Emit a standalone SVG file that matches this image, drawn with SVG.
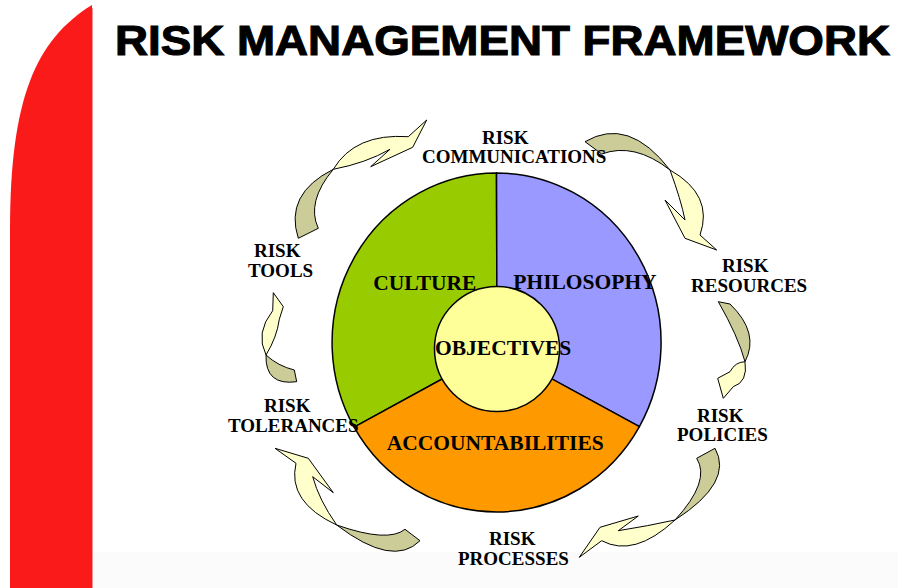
<svg xmlns="http://www.w3.org/2000/svg" width="898" height="588" viewBox="0 0 898 588">
  <defs>
    <style>
      .title { font-family: "Liberation Sans", Arial, sans-serif; font-weight: bold; font-size: 42px; fill: #000; stroke: #000; stroke-width: 1.1px; }
      .lbl { font-family: "Liberation Serif", "Times New Roman", serif; font-weight: bold; font-size: 19px; fill: #000; }
      .seg { font-family: "Liberation Serif", "Times New Roman", serif; font-weight: bold; font-size: 21.5px; fill: #000; }
      .wedge { stroke: #000; stroke-width: 1.5; stroke-linejoin: round; }
      .back { fill: #CCCC99; stroke: #000; stroke-width: 1; stroke-linejoin: round; }
      .front { fill: #FFFFCC; stroke: #000; stroke-width: 1; stroke-linejoin: miter; }
    </style>
  </defs>

  <rect width="898" height="588" fill="#FFFFFF"/>
  <rect x="93" y="552" width="805" height="36" fill="#FBFBFB"/>

  <!-- red side band -->
  <path d="M92,5 C35,40 10,100 10,230 L10,588 L92,588 Z" fill="#FA1A1A"/>
  <line x1="92.5" y1="8" x2="92.5" y2="588" stroke="#F29090" stroke-width="1"/>

  <text class="title" x="115" y="55" textLength="775" lengthAdjust="spacingAndGlyphs">RISK MANAGEMENT FRAMEWORK</text>

  <!-- central wheel -->
  <g id="wheel">
    <g id="culture">
      <path class="wedge" fill="#99CC00" d="M497,349 L496.5,173 A164.5,169.5 0 0 0 354.1,427.2 Z"/>
    </g>
    <g id="philosophy">
      <path class="wedge" fill="#9999FF" d="M497,349 L496.5,173 A164.5,169.5 0 0 1 639.4,426.6 Z"/>
    </g>
    <g id="accountabilities">
      <path class="wedge" fill="#FF9900" d="M497,349 L354.1,427.2 A164.5,169.5 0 0 0 639.4,426.6 Z"/>
    </g>
    <g id="objectives">
      <circle class="wedge" cx="497" cy="349" r="62.5" fill="#FFFF99"/>
    </g>
  </g>

  <!-- curved arrows between the outer labels -->
  <g id="connectors">
    <g id="arrow-tools-communications">
      <path class="back" d="M298.3,238.3 Q284,194 333.3,169.3 Q306,202 318.3,228.3 Z"/>
      <path class="front" d="M333.3,169.3 Q355,133 408.3,136.7 L426.7,120 L412.7,147.3 L370.7,166.7 L390,149.3 Q366,163 333.3,169.3 Z"/>
    </g>
    <g id="arrow-communications-resources">
      <path class="back" d="M585,141.7 Q628.5,116 670,170 Q634.2,142 601.7,154 Z"/>
      <path class="front" d="M670,170 Q714,195 700,235 L716.7,250 L685,238.3 L665,200 L685,220 Q681,200 670,170 Z"/>
    </g>
    <g id="arrow-resources-policies">
      <path class="back" d="M730,304 Q760,333 745,361.7 Q738,336 718.3,301.7 Z"/>
      <path class="front" d="M745,361.7 Q748,382 733.3,386.7 L723.3,398.3 L717.7,378.3 L730,371.7 Q735,362 745,361.7 Z"/>
    </g>
    <g id="arrow-policies-processes">
      <path class="back" d="M715,448.3 Q734,482 675,520 Q711,481 696.7,458.3 Z"/>
      <path class="front" d="M675,520 Q634,558 601.7,540.7 L579.3,557.3 L600,527.3 L638.3,516 L618.3,530.7 Q648,526 675,520 Z"/>
    </g>
    <g id="arrow-processes-tolerances">
      <path class="back" d="M420,540.7 Q393,568 336.7,525 Q388,543 405,529.3 Z"/>
      <path class="front" d="M336.7,525 Q287,502 296,463.3 L275,448.3 L308.3,458.3 L333.3,492.7 L312.7,476.7 Q319,500 336.7,525 Z"/>
    </g>
    <g id="arrow-tolerances-tools">
      <path class="back" d="M296.7,381.7 Q265,386 266,355 Q278,366 294.3,370 Z"/>
      <path class="front" d="M266,355 Q255,333 272.7,310.7 L273.3,292.7 L283.3,306.7 L279.3,319.3 Q277,337 266,355 Z"/>
    </g>
  </g>

  <!-- wheel labels -->
  <g id="wheel-labels">
    <text class="seg" x="373.3" y="289.5">CULTURE</text>
    <text class="seg" x="513.3" y="288.5">PHILOSOPHY</text>
    <text class="seg" x="435" y="355">OBJECTIVES</text>
    <text class="seg" x="386.7" y="450">ACCOUNTABILITIES</text>
  </g>

  <!-- outer labels -->
  <g id="risk-communications">
    <text class="lbl" x="482" y="144">RISK</text>
    <text class="lbl" x="422" y="163">COMMUNICATIONS</text>
  </g>
  <g id="risk-resources">
    <text class="lbl" x="722" y="272">RISK</text>
    <text class="lbl" x="691" y="292">RESOURCES</text>
  </g>
  <g id="risk-policies">
    <text class="lbl" x="697" y="421.5">RISK</text>
    <text class="lbl" x="677" y="440.5">POLICIES</text>
  </g>
  <g id="risk-processes">
    <text class="lbl" x="489" y="545">RISK</text>
    <text class="lbl" x="458" y="564.5">PROCESSES</text>
  </g>
  <g id="risk-tolerances">
    <text class="lbl" x="264" y="412">RISK</text>
    <text class="lbl" x="228" y="431.5">TOLERANCES</text>
  </g>
  <g id="risk-tools">
    <text class="lbl" x="254" y="257">RISK</text>
    <text class="lbl" x="248" y="277">TOOLS</text>
  </g>
</svg>
